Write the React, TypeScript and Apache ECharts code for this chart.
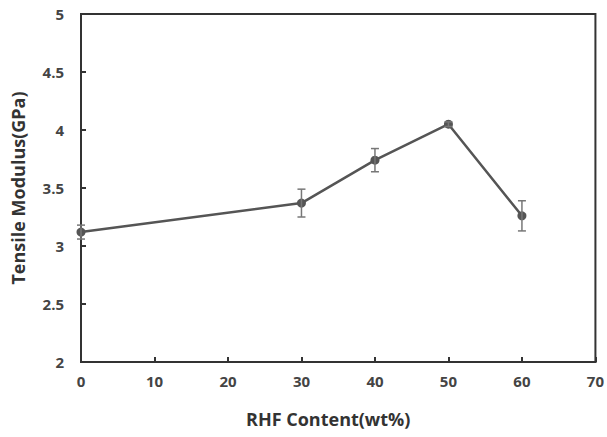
import React, { useEffect, useRef } from "react";
import * as echarts from "echarts";

const rhfContent = [0, 30, 40, 50, 60];
const modulus = [3.12, 3.37, 3.74, 4.05, 3.26];
const errors = [0.06, 0.12, 0.1, 0.02, 0.13];

export default function App() {
  const ref = useRef<HTMLDivElement>(null);
  useEffect(() => {
    if (!ref.current) return;
    const chart = echarts.init(ref.current, null, { renderer: "svg" });
    const font = "'Open Sans', Lato, sans-serif";
    const points = rhfContent.map((x, i) => [x, modulus[i]]);
    const errData = rhfContent.map((x, i) => [x, modulus[i] - errors[i], modulus[i] + errors[i]]);
    chart.setOption({
      animation: false,
      backgroundColor: "#ffffff",
      grid: {
        left: 81,
        top: 14,
        width: 516,
        height: 348,
        show: true,
        borderColor: "#333",
        borderWidth: 2,
        backgroundColor: "transparent",
      },
      xAxis: {
        type: "value",
        min: 0,
        max: 70,
        interval: 10,
        name: "RHF Content(wt%)",
        nameLocation: "middle",
        nameGap: 48,
        nameTextStyle: {
          fontFamily: font,
          fontWeight: "bold",
          fontSize: 18,
          color: "#333",
          padding: [0, 20, 0, 0],
        },
        axisLine: { show: true, lineStyle: { color: "#333", width: 2 } },
        axisTick: { show: true, inside: true, length: 5, lineStyle: { color: "#333", width: 2 } },
        axisLabel: { fontFamily: font, fontWeight: "bold", fontSize: 15, color: "#444", margin: 11 },
        splitLine: { show: false },
      },
      yAxis: {
        type: "value",
        min: 2,
        max: 5,
        interval: 0.5,
        name: "Tensile Modulus(GPa)",
        nameLocation: "middle",
        nameGap: 54,
        nameTextStyle: { fontFamily: font, fontWeight: "bold", fontSize: 18, color: "#333" },
        axisLine: { show: true, lineStyle: { color: "#333", width: 2 } },
        axisTick: { show: true, inside: true, length: 5, lineStyle: { color: "#333", width: 2 } },
        axisLabel: { fontFamily: font, fontWeight: "bold", fontSize: 15, color: "#444", margin: 17 },
        splitLine: { show: false },
      },
      series: [
        {
          type: "line",
          data: points,
          symbol: "circle",
          symbolSize: 9,
          lineStyle: { color: "#555", width: 2.5 },
          itemStyle: { color: "#555" },
          z: 3,
        },
        {
          type: "custom",
          data: errData,
          z: 4,
          renderItem: (params: any, api: any) => {
            const x = api.value(0);
            const lo = api.coord([x, api.value(1)]);
            const hi = api.coord([x, api.value(2)]);
            const w = 4;
            const style = { stroke: "#777", lineWidth: 1.5 };
            return {
              type: "group",
              children: [
                { type: "line", shape: { x1: lo[0], y1: lo[1], x2: hi[0], y2: hi[1] }, style },
                { type: "line", shape: { x1: lo[0] - w, y1: lo[1], x2: lo[0] + w, y2: lo[1] }, style },
                { type: "line", shape: { x1: hi[0] - w, y1: hi[1], x2: hi[0] + w, y2: hi[1] }, style },
              ],
            };
          },
        },
      ],
    });
    return () => chart.dispose();
  }, []);
  return (
    <div
      ref={ref}
      style={{ position: "fixed", left: 0, top: 0, width: 607, height: 437, background: "#fff" }}
    />
  );
}
